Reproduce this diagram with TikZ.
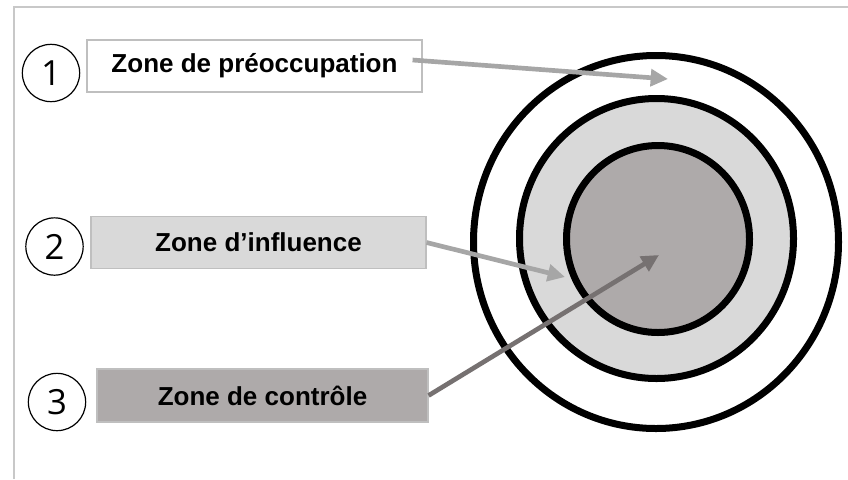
\documentclass[tikz,border=0pt]{standalone}
\usepackage{fontspec}
\setmainfont{Liberation Sans}
\newfontfamily\numfont{Open Sans}
\usetikzlibrary{arrows.meta}

\definecolor{frameline}{RGB}{200,200,200}
\definecolor{boxline}{RGB}{191,191,191}
\definecolor{ringlight}{RGB}{217,217,217}
\definecolor{ringdark}{RGB}{174,170,170}
\definecolor{arrowlight}{RGB}{166,166,166}
\definecolor{arrowdark}{RGB}{118,113,113}

\begin{document}
\begin{tikzpicture}[x=0.75pt,y=0.75pt,yscale=-1,xscale=1,
  zonebox/.style={draw=boxline, line width=1.1pt, minimum width=251pt, minimum height=39pt, inner sep=0pt, font=\fontsize{19.5}{23}\selectfont\bfseries},
  numcircle/.style={circle, draw=black, line width=0.9pt, minimum size=43pt, inner sep=0pt, font=\numfont\fontsize{26}{30}\selectfont},
  ring/.style={draw=black, line width=5.25pt},
  zonearrow/.style={line width=3.5pt, -{Triangle[length=13pt,width=12.5pt]}}
]
\useasboundingbox (0,0) rectangle (848,479);

%Straight Lines (frame)
\draw [frameline, line width=2pt] (14,479) -- (14,7) -- (848,7) ;

%Shape: Ellipse
\draw [ring, fill=white] (656,242) ellipse (182.5 and 186.5) ;
%Shape: Ellipse
\draw [ring, fill=ringlight] (656.5,238.5) ellipse (137 and 140) ;
%Shape: Ellipse
\draw [ring, fill=ringdark] (658,239) ellipse (91.5 and 93.5) ;

% Text Node
\node [zonebox, fill=white] (pre) at (254.5,66) {Zone de préoccupation};
% Text Node
\node [zonebox, fill=ringlight] (inf) at (258.5,242.5) {Zone d’influence};
% Text Node
\node [zonebox, fill=ringdark, minimum width=248pt, minimum height=40pt] (ctl) at (262.5,395.5) {Zone de contrôle};

% Text Node
\node [numcircle] (one) at (51,73) {1};
% Text Node
\node [numcircle] (two) at (54.5,246.5) {2};
% Text Node
\node [numcircle] (three) at (57,402) {3};

\coordinate (tippre) at (668,79);
\coordinate (tipinf) at (565,277);
\coordinate (tipctl) at (659,255);

%Straight Lines [arrows]
\draw [zonearrow, arrowlight] ([xshift=-7.5pt,yshift=-4.5pt]pre.east) -- (tippre) ;
\draw [zonearrow, arrowlight] (inf.east) -- (tipinf) ;
\draw [zonearrow, arrowdark] (ctl.east) -- (tipctl) ;

\end{tikzpicture}
\end{document}
